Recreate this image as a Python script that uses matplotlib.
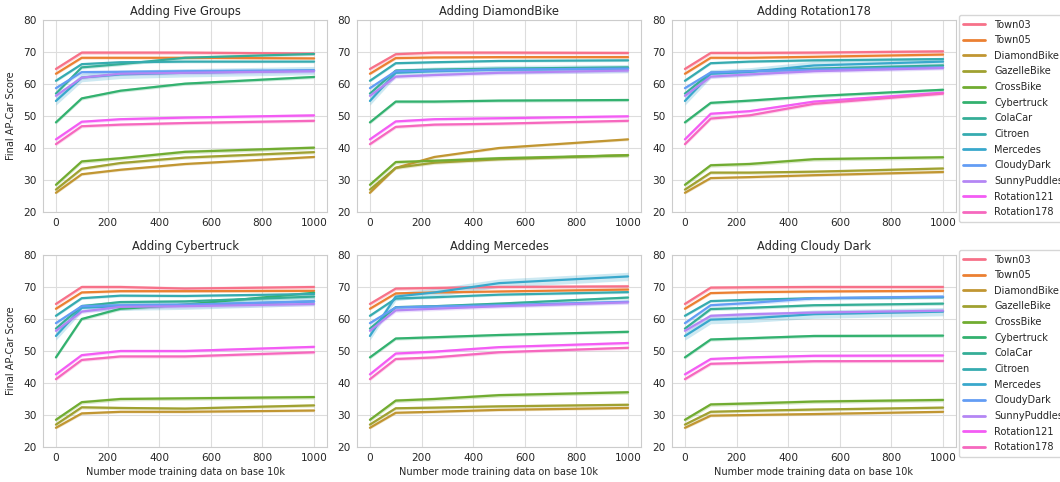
import numpy as np
import seaborn as sns
import matplotlib
matplotlib.use("Agg")
from matplotlib import pyplot as plt

sns.set_theme(style="whitegrid")
plt.rcParams['font.family'] = ['DejaVu Sans']

# x positions (number of added mode images)
x_vals = [0, 100, 250, 500, 1000]

names = ["Town03", "Town05", "DiamondBike", "GazelleBike", "CrossBike", "Cybertruck",
         "ColaCar", "Citroen", "Mercedes", "CloudyDark", "SunnyPuddles",
         "Rotation121", "Rotation178"]

titles = ["Adding Five Groups", "Adding DiamondBike", "Adding Rotation178",
          "Adding Cybertruck", "Adding Mercedes", "Adding Cloudy Dark"]

# half width of the shaded band per series
spread = [0.6, 0.4, 0.4, 0.5, 0.6, 0.5, 0.5, 0.4, 1.3, 0.6, 0.6, 0.5, 0.5]

five_groups = [
    [64.7, 69.8, 69.8, 69.8, 69.5],
    [63.2, 68.2, 68.2, 68.2, 68.0],
    [26.0, 31.8, 33.2, 35.0, 37.2],
    [27.0, 33.5, 35.3, 37.0, 38.7],
    [28.5, 35.8, 36.8, 38.8, 40.1],
    [48.0, 55.5, 57.9, 60.1, 62.2],
    [57.0, 65.2, 66.2, 68.2, 69.4],
    [61.0, 66.2, 66.8, 67.0, 67.0],
    [54.7, 62.0, 63.0, 63.5, 64.2],
    [58.7, 63.7, 63.8, 64.0, 64.3],
    [56.3, 62.0, 63.2, 63.5, 64.0],
    [42.7, 48.2, 49.0, 49.5, 50.2],
    [41.2, 46.8, 47.3, 47.8, 48.5],
]

diamond_bike = [
    [64.7, 69.3, 69.8, 69.8, 69.7],
    [63.2, 68.1, 68.3, 68.4, 68.4],
    [26.0, 33.8, 37.2, 40.0, 42.7],
    [27.0, 33.8, 35.4, 36.5, 37.8],
    [28.5, 35.6, 36.0, 36.8, 37.7],
    [48.0, 54.5, 54.5, 54.8, 55.0],
    [57.0, 64.2, 64.5, 64.8, 65.2],
    [61.0, 66.5, 66.8, 67.2, 67.4],
    [54.7, 63.5, 64.0, 64.5, 64.8],
    [58.7, 64.0, 64.2, 64.5, 64.8],
    [56.3, 62.3, 62.8, 63.5, 64.2],
    [42.7, 48.3, 49.0, 49.3, 49.9],
    [41.2, 46.6, 47.3, 47.6, 48.5],
]

rotation178 = [
    [64.7, 69.7, 69.7, 69.8, 70.2],
    [63.2, 68.2, 68.2, 68.5, 69.2],
    [26.0, 30.6, 30.9, 31.5, 32.5],
    [27.0, 32.3, 32.3, 32.6, 33.6],
    [28.5, 34.6, 35.0, 36.5, 37.1],
    [48.0, 54.1, 54.8, 56.2, 58.2],
    [57.0, 63.5, 64.0, 64.8, 65.8],
    [61.0, 66.5, 67.0, 67.4, 67.8],
    [54.7, 63.2, 63.8, 65.8, 67.0],
    [58.7, 63.6, 64.0, 64.5, 65.2],
    [56.3, 62.3, 63.0, 64.0, 65.0],
    [42.7, 50.7, 51.5, 54.5, 57.3],
    [41.2, 49.2, 50.2, 53.8, 57.0],
]

cybertruck = [
    [64.7, 70.0, 70.0, 69.5, 70.0],
    [63.2, 68.3, 68.7, 68.7, 68.8],
    [26.0, 30.5, 31.0, 31.0, 31.4],
    [27.0, 32.4, 32.2, 32.0, 33.0],
    [28.5, 34.0, 35.0, 35.2, 35.6],
    [48.0, 60.0, 63.2, 64.5, 68.2],
    [57.0, 64.0, 65.3, 65.5, 67.0],
    [61.0, 66.5, 67.3, 67.2, 67.8],
    [54.7, 63.5, 64.0, 64.3, 65.5],
    [58.7, 64.0, 64.3, 64.5, 65.5],
    [56.3, 62.3, 63.8, 64.0, 64.7],
    [42.7, 48.7, 50.0, 50.0, 51.3],
    [41.2, 47.2, 48.3, 48.3, 49.6],
]

mercedes = [
    [64.7, 69.5, 69.7, 70.0, 70.2],
    [63.2, 68.0, 68.3, 68.6, 69.2],
    [26.0, 30.7, 31.0, 31.6, 32.2],
    [27.0, 32.1, 32.3, 32.7, 33.2],
    [28.5, 34.5, 35.0, 36.2, 37.1],
    [48.0, 53.9, 54.3, 55.0, 56.0],
    [57.0, 63.7, 64.0, 64.8, 66.7],
    [61.0, 66.4, 66.8, 67.6, 68.4],
    [54.7, 67.0, 68.3, 71.2, 73.3],
    [58.7, 63.6, 63.9, 64.3, 65.4],
    [56.3, 62.7, 63.2, 64.0, 65.2],
    [42.7, 49.2, 49.8, 51.2, 52.5],
    [41.2, 47.5, 48.0, 49.6, 51.0],
]

cloudy_dark = [
    [64.7, 69.8, 69.9, 70.0, 70.0],
    [63.2, 68.1, 68.4, 68.6, 68.8],
    [26.0, 29.8, 30.0, 30.3, 31.0],
    [27.0, 31.0, 31.3, 31.7, 32.3],
    [28.5, 33.3, 33.6, 34.2, 34.7],
    [48.0, 53.6, 54.0, 54.7, 54.8],
    [57.0, 63.1, 63.5, 64.3, 64.8],
    [61.0, 65.6, 66.0, 66.5, 66.8],
    [54.7, 59.8, 60.2, 61.5, 62.3],
    [58.7, 64.3, 65.0, 66.5, 67.0],
    [56.3, 61.0, 61.5, 62.0, 62.6],
    [42.7, 47.5, 48.0, 48.5, 48.6],
    [41.2, 46.0, 46.3, 46.8, 46.9],
]

all_data = [five_groups, diamond_bike, rotation178, cybertruck, mercedes, cloudy_dark]

colors = sns.color_palette("husl", len(names))
text_c = "#262626"

fig = plt.figure(figsize=(10.6, 4.82), dpi=100)
W, H = 1060.0, 482.0
lefts = [43, 357, 672]
tops = [20, 255]
aw, ah = 284, 192

for k in range(6):
    r, c = divmod(k, 3)
    ax = fig.add_axes([lefts[c] / W, 1 - (tops[r] + ah) / H, aw / W, ah / H])
    data = all_data[k]
    for i in range(len(names)):
        y = np.array(data[i])
        ax.fill_between(x_vals, y - spread[i], y + spread[i], color=colors[i], alpha=0.25, lw=0)
        ax.plot(x_vals, y, color=colors[i], lw=1.6, label=names[i])
    ax.set_ylim(20, 80)
    ax.set_xlim(-50, 1050)
    ax.set_xticks([0, 200, 400, 600, 800, 1000])
    ax.set_yticks([20, 30, 40, 50, 60, 70, 80])
    ax.tick_params(labelsize=7.6, colors=text_c, length=0, pad=4.5)
    ax.set_title(titles[k], fontsize=8.3, color=text_c, pad=3.5)
    for s in ax.spines.values():
        s.set_color("#cccccc")
        s.set_linewidth(0.8)
    ax.grid(color="#dddddd", lw=0.8)
    if c == 0:
        ax.set_ylabel("Final AP-Car Score", fontsize=7, color=text_c, labelpad=5)
    if r == 1:
        ax.set_xlabel("Number mode training data on base 10k", fontsize=7, color=text_c, labelpad=3)
    if c == 2:
        leg = ax.legend(loc="upper left", bbox_to_anchor=(1.01, 1.025), fontsize=7,
                        frameon=True, handlelength=2.2, labelspacing=0.58,
                        borderpad=0.45, handletextpad=1.0, borderaxespad=0.0)
        for h in leg.get_lines():
            h.set_linewidth(2.0)
        for t in leg.get_texts():
            t.set_color(text_c)
        leg.get_frame().set_edgecolor("#cccccc")

fig.savefig("out.png", dpi=100)
